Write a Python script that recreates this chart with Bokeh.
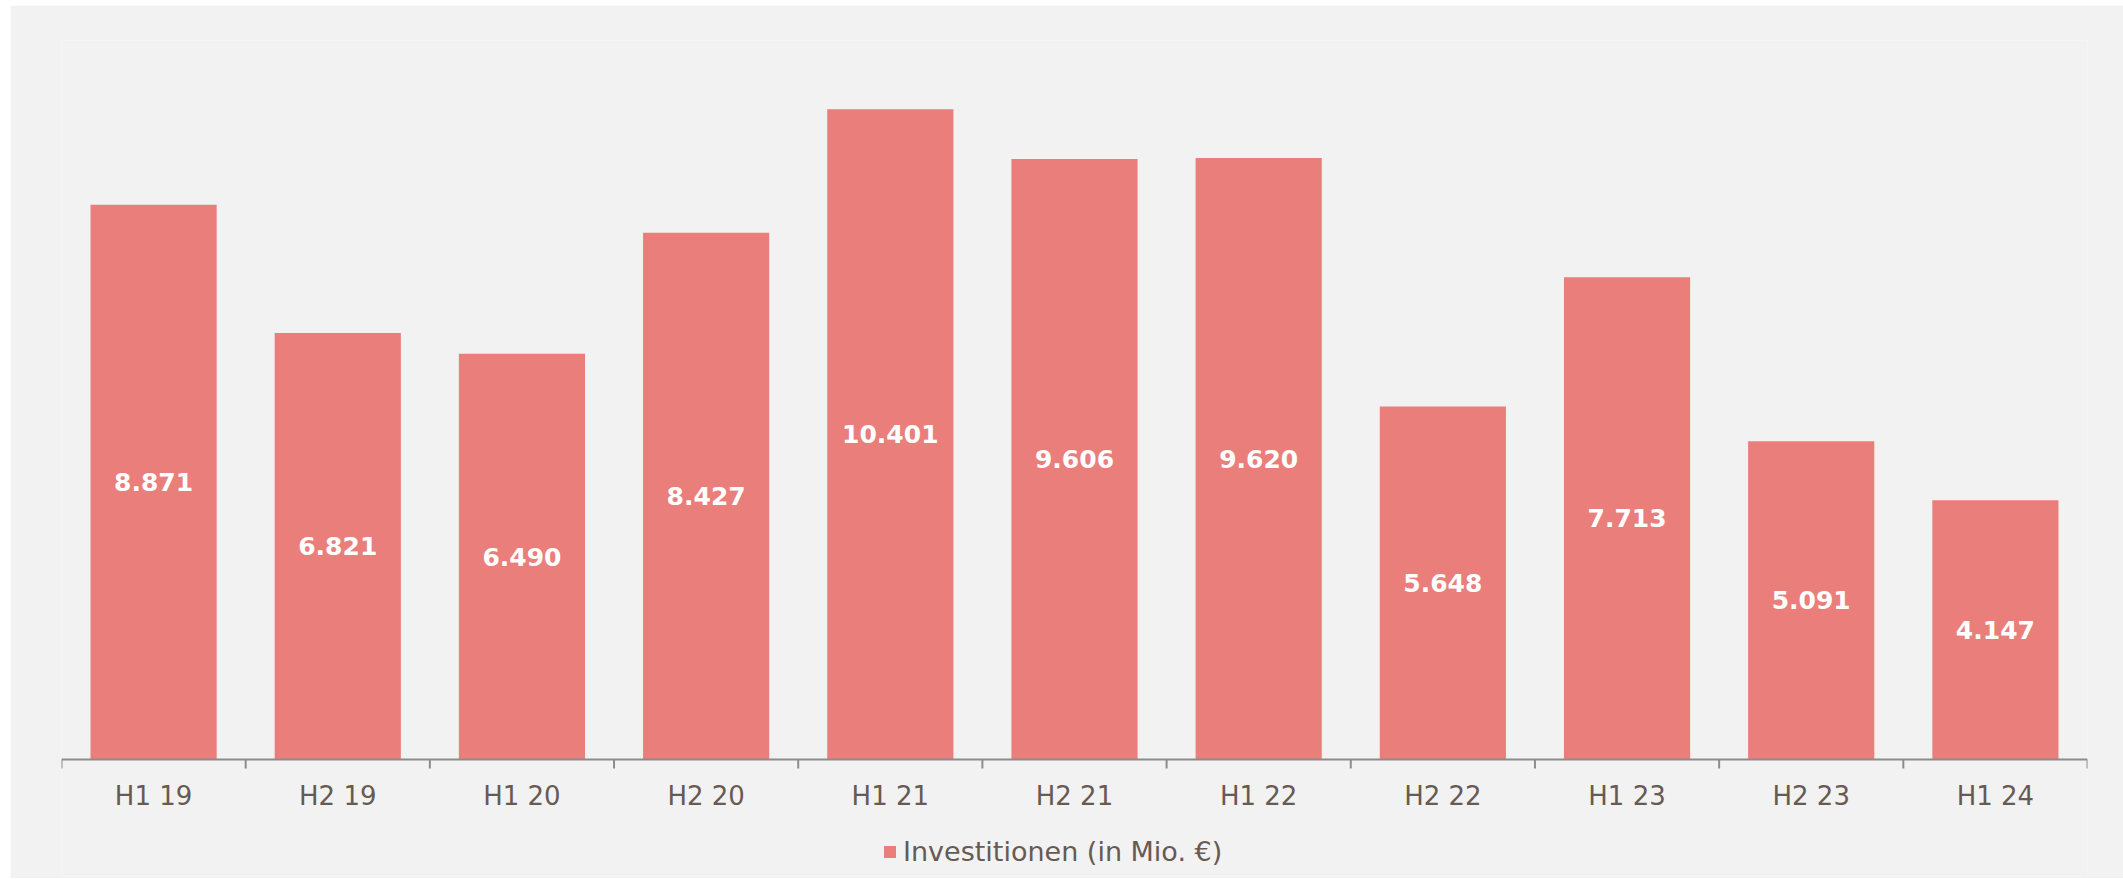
import math
from bokeh.plotting import figure
from bokeh.models import (ColumnDataSource, Range1d, Legend, LegendItem, LabelSet, Span)
from bokeh.core.properties import value
from bokeh.embed import file_html
from bokeh.resources import INLINE

categories = ["H1 19", "H2 19", "H1 20", "H2 20", "H1 21", "H2 21", "H1 22", "H2 22", "H1 23", "H2 23", "H1 24"]
values = [8.871, 6.821, 6.490, 8.427, 10.401, 9.606, 9.620, 5.648, 7.713, 5.091, 4.147]
value_labels = ["8.871", "6.821", "6.490", "8.427", "10.401", "9.606", "9.620", "5.648", "7.713", "5.091", "4.147"]
series_name = "Investitionen (in Mio. €)"

BAR = "#EA7E7A"
BG = "#F2F2F2"
TXT = "#675A52"
AX = "#8C8C8C"
FONT = "DejaVu Sans"

n = len(categories)
centers = [i + 0.5 for i in range(n)]
bounds = list(range(n + 1))
src = ColumnDataSource(dict(x=centers, val=values, half=[v / 2 for v in values], lab=value_labels,
                            cat=categories, zero=[0] * n))
bsrc = ColumnDataSource(dict(b=bounds, zero=[0] * (n + 1)))

Y_TOP = 11.5
PLOT_H = 719           # px from baseline to top of the plotting area
BELOW = 117            # px below the baseline kept for labels and legend
ppu = PLOT_H / Y_TOP

p = figure(frame_width=2026, frame_height=PLOT_H + BELOW, x_range=Range1d(0, n),
           y_range=Range1d(-BELOW / ppu, Y_TOP),
           output_backend="svg", toolbar_location=None, x_axis_location=None, y_axis_location=None,
           background_fill_color=BG, border_fill_color=BG, outline_line_color=None,
           min_border_left=51, min_border_right=36, min_border_top=35, min_border_bottom=2,
           margin=(5, 0, 0, 10))
p.grid.visible = False

bars = p.vbar(x="x", top="val", width=0.685, source=src, fill_color=BAR, line_color=None)

# value labels in the middle of each bar
p.add_layout(LabelSet(x="x", y="half", text="lab", source=src, text_align="center", text_baseline="middle",
                      text_color="white", text_font=value(FONT), text_font_style="bold",
                      text_font_size="25px"))

# category axis: base line, tick marks at the category boundaries, labels at the centres
p.add_layout(Span(location=0, dimension="width", line_color=AX, line_width=2))
p.ray(x="b", y="zero", length=9, length_units="screen", angle=-math.pi / 2, source=bsrc,
      line_color=AX, line_width=2)
p.add_layout(LabelSet(x="x", y="zero", text="cat", source=src, text_align="center", text_baseline="middle",
                      y_offset=-36, text_color=TXT, text_font=value(FONT), text_font_size="26px"))

legend = Legend(items=[LegendItem(label=series_name, renderers=[bars])], orientation="horizontal",
                location=(821, 9), glyph_width=15, glyph_height=15, label_standoff=6,
                label_text_font=FONT, label_text_font_size="27px", label_text_color=TXT,
                border_line_color=None, background_fill_alpha=0, padding=0, margin=0, spacing=0)
p.add_layout(legend)

open("out.html", "w").write(file_html(p, INLINE))
